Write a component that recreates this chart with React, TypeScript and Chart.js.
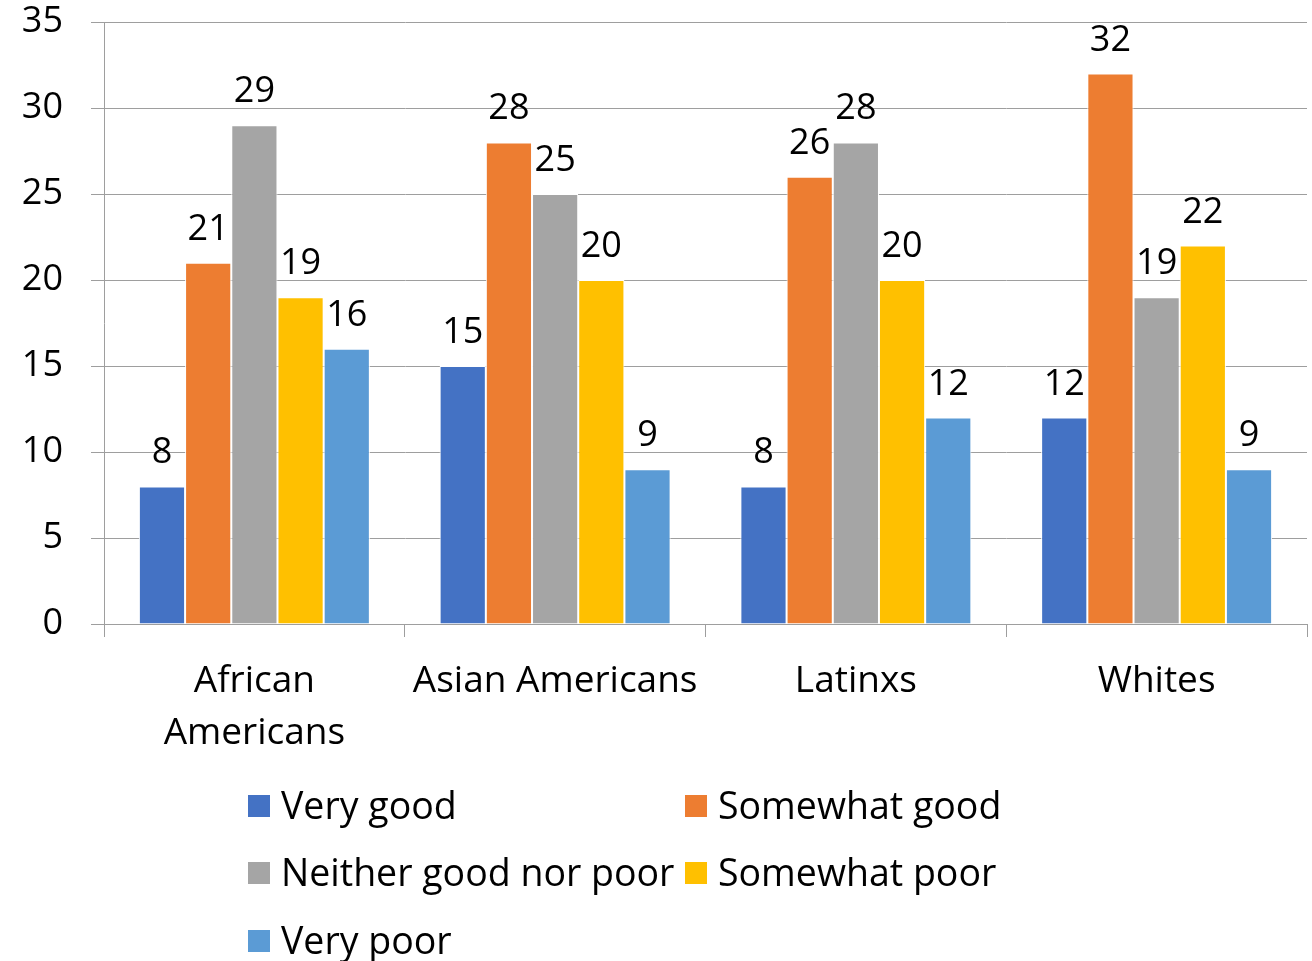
import React, { useEffect, useRef } from "react";
import { Chart, registerables } from "chart.js";

Chart.register(...registerables);

const categories: (string | string[])[] = [["African", "Americans"], "Asian Americans", "Latinxs", "Whites"];
const seriesNames = ["Very good", "Somewhat good", "Neither good nor poor", "Somewhat poor", "Very poor"];
const veryGood = [8, 15, 8, 12];
const somewhatGood = [21, 28, 26, 32];
const neitherGoodNorPoor = [29, 25, 28, 19];
const somewhatPoor = [19, 20, 20, 22];
const veryPoor = [16, 9, 12, 9];
const seriesColors = ["#4472C4", "#ED7D31", "#A5A5A5", "#FFC000", "#5B9BD5"];
const yMin = 0;
const yMax = 35;
const yStep = 5;

const FONT = "'Open Sans', sans-serif";
const FONT_SIZE = 36;
const LEGEND_FONT_SIZE = 37.5;
const XLABEL_FONT_SIZE = 37;

const valueLabels = {
  id: "valueLabels",
  afterDatasetsDraw(chart: any) {
    const ctx = chart.ctx;
    ctx.save();
    ctx.font = `${FONT_SIZE}px ${FONT}`;
    ctx.fillStyle = "#000";
    ctx.textAlign = "center";
    ctx.textBaseline = "alphabetic";
    chart.data.datasets.forEach((ds: any, i: number) => {
      const meta = chart.getDatasetMeta(i);
      meta.data.forEach((el: any, j: number) => {
        ctx.fillText(String(ds.data[j]), el.x, el.y - 23);
      });
    });
    ctx.restore();
  },
};

const gridLegend = {
  id: "gridLegend",
  afterDraw(chart: any) {
    const ctx = chart.ctx;
    ctx.save();
    ctx.font = `${LEGEND_FONT_SIZE}px ${FONT}`;
    ctx.textAlign = "left";
    ctx.textBaseline = "alphabetic";
    const colX = [248, 685];
    const rowY = [806, 873, 941];
    chart.data.datasets.forEach((ds: any, i: number) => {
      const cx = colX[i % 2];
      const cy = rowY[Math.floor(i / 2)];
      ctx.fillStyle = ds.backgroundColor;
      ctx.fillRect(cx, cy - 11, 22, 22);
      ctx.fillStyle = "#000";
      ctx.fillText(ds.label, cx + 33, cy + 13);
    });
    ctx.restore();
  },
};

export default function App() {
  const ref = useRef<HTMLCanvasElement>(null);
  useEffect(() => {
    if (!ref.current) return;
    const seriesData = [veryGood, somewhatGood, neitherGoodNorPoor, somewhatPoor, veryPoor];
    const chart = new Chart(ref.current, {
      type: "bar",
      data: {
        labels: categories,
        datasets: seriesNames.map((name, i) => ({
          label: name,
          data: seriesData[i],
          backgroundColor: seriesColors[i],
          borderColor: "#ffffff",
          borderWidth: 1,
          categoryPercentage: 0.768,
          barPercentage: 1,
        })),
      },
      options: {
        responsive: false,
        animation: false,
        layout: { padding: { top: 22, right: 5, bottom: 197, left: 0 } },
        plugins: {
          legend: { display: false },
          tooltip: { enabled: false },
        },
        scales: {
          x: {
            grid: {
              display: true,
              drawOnChartArea: false,
              drawTicks: true,
              tickLength: 13,
              offset: true,
              color: "#9e9e9e",
            },
            border: { display: true, color: "#9e9e9e", width: 1 },
            ticks: {
              color: "#000",
              font: { family: FONT, size: XLABEL_FONT_SIZE, lineHeight: "52px" as any },
              padding: 18,
              maxRotation: 0,
              autoSkip: false,
            },
            afterFit(scale: any) {
              scale.height = 140;
              scale.paddingLeft = 0;
              scale.paddingRight = 0;
            },
          },
          y: {
            min: yMin,
            max: yMax,
            grid: {
              color: "#9e9e9e",
              lineWidth: 1,
              drawTicks: true,
              tickLength: 13,
            },
            border: { display: true, color: "#9e9e9e", width: 1 },
            ticks: {
              stepSize: yStep,
              color: "#000",
              font: { family: FONT, size: FONT_SIZE, lineHeight: 1 },
              padding: 28,
            },
            afterFit(scale: any) {
              scale.width = 104;
              scale.paddingTop = 0;
              scale.paddingBottom = 0;
            },
          },
        },
      },
      plugins: [valueLabels, gridLegend],
    });
    return () => chart.destroy();
  }, []);
  return (
    <div style={{ position: "absolute", left: 0, top: 0, width: 1312, height: 961, background: "#fff" }}>
      <canvas ref={ref} width={1312} height={961} style={{ display: "block" }} />
    </div>
  );
}
